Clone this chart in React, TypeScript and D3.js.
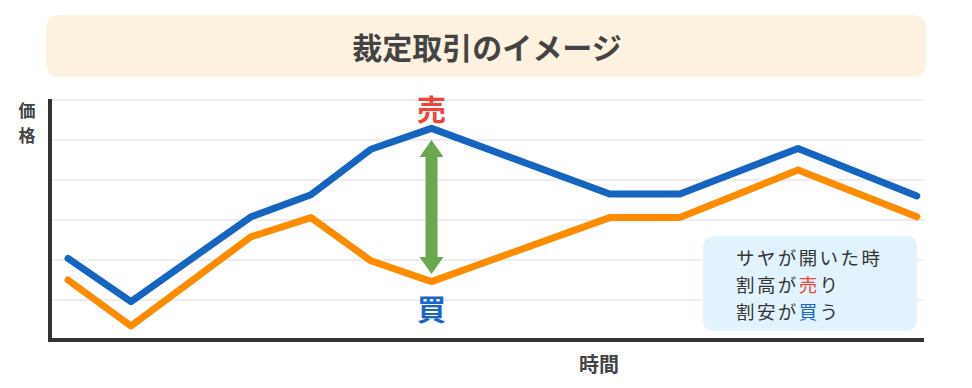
import * as d3 from "d3";

// time positions (arbitrary units) and price levels
const times = [0.3, 1.35, 3.35, 4.35, 5.35, 6.36, 9.33, 10.5, 12.47, 14.45];
const bluePrices = [2.04, 0.96, 3.08, 3.63, 4.77, 5.29, 3.65, 3.65, 4.79, 3.6];
const orangePrices = [1.5, 0.35, 2.58, 3.06, 1.98, 1.46, 3.06, 3.06, 4.25, 3.08];
const gridLevels = [1, 2, 3, 4, 5, 6];

const arrowTime = 6.36;
const arrowTop = 5.0;
const arrowBottom = 1.65;

const title = "裁定取引のイメージ";
const noteLines = [
  [{ t: "サヤが開いた時", c: "#333" }],
  [{ t: "割高が", c: "#333" }, { t: "売", c: "#f0443a" }, { t: "り", c: "#333" }],
  [{ t: "割安が", c: "#333" }, { t: "買", c: "#1a66c8" }, { t: "う", c: "#333" }],
];

const W = 972;
const H = 388;
const FONT = "'Noto Sans CJK JP', 'Noto Sans', sans-serif";

export default function App() {
  const x = d3.scaleLinear().domain([0, 14.57]).range([50, 924]);
  const y = d3.scaleLinear().domain([0, 6]).range([340, 100]);

  const line = d3
    .line<number>()
    .x((_, i) => x(times[i]))
    .y((d) => y(d));

  const ax = x(arrowTime);
  const ay1 = y(arrowTop);
  const ay2 = y(arrowBottom);
  const headL = 17;
  const headW = 12;
  const shaftW = 6;
  const arrowPath = [
    `M${ax},${ay1}`,
    `L${ax + headW},${ay1 + headL}`,
    `L${ax + shaftW},${ay1 + headL}`,
    `L${ax + shaftW},${ay2 - headL}`,
    `L${ax + headW},${ay2 - headL}`,
    `L${ax},${ay2}`,
    `L${ax - headW},${ay2 - headL}`,
    `L${ax - shaftW},${ay2 - headL}`,
    `L${ax - shaftW},${ay1 + headL}`,
    `L${ax - headW},${ay1 + headL}`,
    "Z",
  ].join("");

  return (
    <svg
      width={W}
      height={H}
      style={{ position: "absolute", left: 0, top: 0, display: "block", background: "#fff" }}
      fontFamily={FONT}
    >
      {/* title banner */}
      <rect x={46} y={15} width={880} height={62} rx={12} fill="#fdf2df" />
      <text x={487} y={46} textAnchor="middle" dominantBaseline="central" fontSize={30} fontWeight={700} fill="#444">
        {title}
      </text>

      {/* grid */}
      {gridLevels.map((g) => (
        <line key={g} x1={50} x2={924} y1={y(g)} y2={y(g)} stroke="#dcdcdc" strokeWidth={1} />
      ))}

      {/* axes */}
      <line x1={50} x2={50} y1={y(6) - 1} y2={y(0) + 2} stroke="#333" strokeWidth={4} />
      <line x1={48} x2={924} y1={y(0)} y2={y(0)} stroke="#333" strokeWidth={4} />

      <text x={27} y={109} textAnchor="middle" dominantBaseline="central" fontSize={17} fontWeight={700} fill="#444">
        価
      </text>
      <text x={27} y={134} textAnchor="middle" dominantBaseline="central" fontSize={17} fontWeight={700} fill="#444">
        格
      </text>
      <text x={599} y={363} textAnchor="middle" dominantBaseline="central" fontSize={20} fontWeight={700} fill="#444">
        時間
      </text>

      {/* series */}
      <path d={line(orangePrices) ?? ""} fill="none" stroke="#ff8c00" strokeWidth={7} strokeLinejoin="round" strokeLinecap="round" />
      <path d={line(bluePrices) ?? ""} fill="none" stroke="#1565c0" strokeWidth={7} strokeLinejoin="round" strokeLinecap="round" />

      {/* spread arrow */}
      <path d={arrowPath} fill="#6aa84f" />
      <text x={ax} y={y(5.8)} textAnchor="middle" dominantBaseline="central" fontSize={29} fontWeight={700} fill="#f0443a">
        売
      </text>
      <text x={ax} y={y(0.8)} textAnchor="middle" dominantBaseline="central" fontSize={29} fontWeight={700} fill="#1a66c8">
        買
      </text>

      {/* note box */}
      <rect x={703} y={236} width={214} height={95} rx={10} fill="#e1f3fc" />
      {noteLines.map((parts, i) => (
        <text key={i} x={736} y={257 + i * 27} dominantBaseline="central" fontSize={18.5} letterSpacing={2.4} fill="#333">
          {parts.map((p, j) => (
            <tspan key={j} fill={p.c}>
              {p.t}
            </tspan>
          ))}
        </text>
      ))}
    </svg>
  );
}
